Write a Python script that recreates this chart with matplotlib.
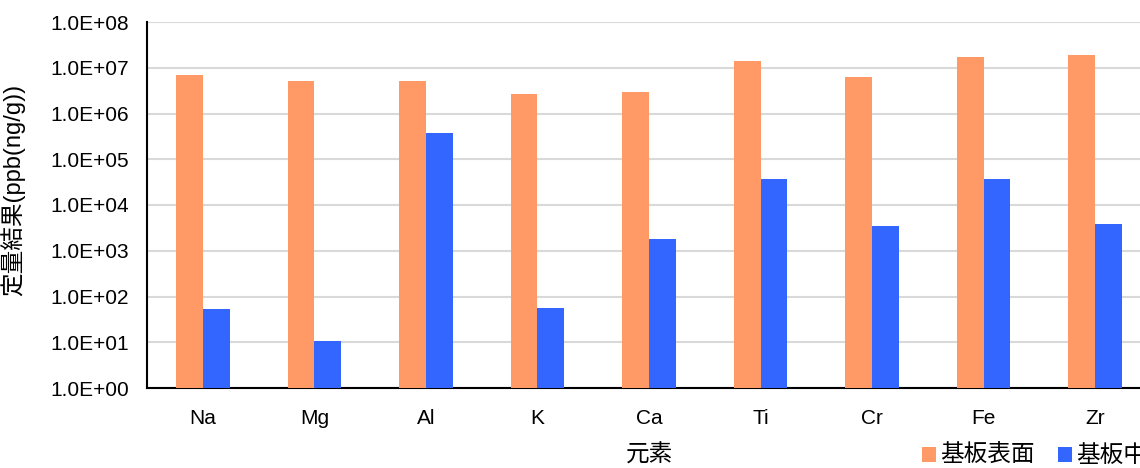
import numpy as np
import matplotlib
matplotlib.use('Agg')
import matplotlib.pyplot as plt
import matplotlib.ticker as mticker

plt.rcParams['font.family'] = ['Liberation Sans', 'Noto Sans CJK JP']
plt.rcParams['font.size'] = 15

elements = ['Na', 'Mg', 'Al', 'K', 'Ca', 'Ti', 'Cr', 'Fe', 'Zr']
surface = [7.0e6, 5.2e6, 5.2e6, 2.7e6, 2.95e6, 1.43e7, 6.2e6, 1.72e7, 1.9e7]
inside = [53, 10.5, 3.8e5, 56, 1.8e3, 3.76e4, 3.4e3, 3.7e4, 3.85e3]

c_surf = '#FF9966'
c_in = '#3366FF'

fig = plt.figure(figsize=(11.4, 4.68), dpi=100)
ax = fig.add_axes([147/1140, 80/468, 1004/1140, 366/468])

x = np.arange(len(elements))
w = 0.24
ax.bar(x - w/2, surface, w, color=c_surf, label='基板表面', zorder=3)
ax.bar(x + w/2, inside, w, color=c_in, label='基板中', zorder=3)

ax.set_yscale('log')
ax.set_ylim(1, 1e8)
ax.set_xlim(-0.5, len(elements) - 0.5)
ax.yaxis.set_major_locator(mticker.FixedLocator([10.0**k for k in range(9)]))
ax.yaxis.set_minor_locator(mticker.NullLocator())
ax.yaxis.set_major_formatter(mticker.FuncFormatter(lambda v, p: f'{v:.1E}'))
ax.set_xticks(x)
ax.set_xticklabels(elements)
ax.tick_params(axis='both', length=0, labelsize=15)
ax.tick_params(axis='y', pad=13)
ax.tick_params(axis='x', pad=15)

ax.grid(axis='y', color='#d9d9d9', linewidth=1.5, zorder=0)
for s in ['top', 'right']:
    ax.spines[s].set_visible(False)
ax.spines['left'].set_linewidth(1.5)
ax.spines['bottom'].set_linewidth(1.5)

ax.set_ylabel('定量結果(ppb(ng/g))', fontsize=17)
ax.yaxis.set_label_coords(25/1004 - 147/1004, 0.54)
ax.set_xlabel('元素', fontsize=17, labelpad=12)

# legend sits low at the right, running off the figure edge like the original
fig.legend(loc='lower left', bbox_to_anchor=(901/1140, -0.044), ncol=2, frameon=False,
           handlelength=0.6, handleheight=0.6, handletextpad=0.15, columnspacing=1.0,
           prop={'family': ['Noto Sans CJK JP'], 'size': 17})

fig.savefig('out.png', dpi=100)
